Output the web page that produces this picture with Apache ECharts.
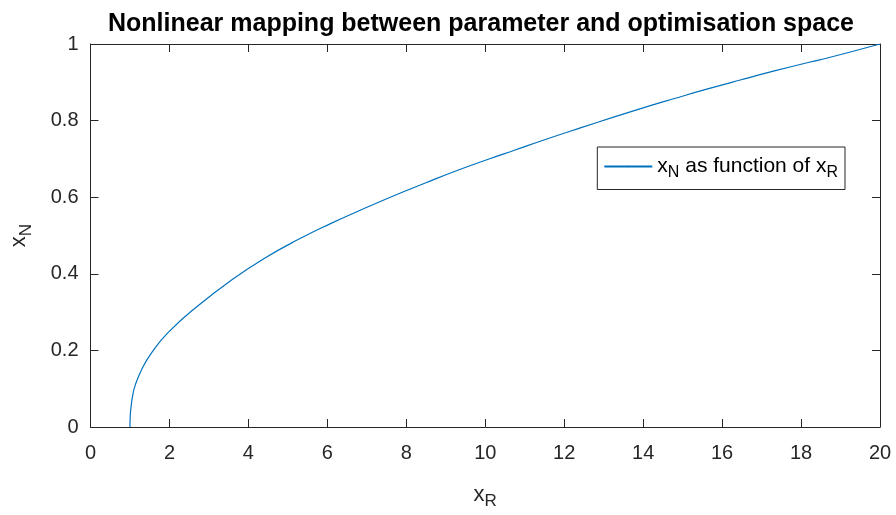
<!DOCTYPE html>
<html>
<head>
<meta charset="utf-8">
<script src="https://cdn.jsdelivr.net/npm/echarts@6/dist/echarts.min.js"></script>
<style>
  html, body { margin: 0; padding: 0; background: #fff; }
  #chart { width: 896px; height: 515px; }
</style>
</head>
<body>
<div id="chart"></div>
<script>
// Parameter-space values (x_R) and the matching optimisation-space values (x_N)
const xR = [1, 1.005, 1.03, 1.065, 1.13, 1.30, 1.55, 1.97, 2.74, 3.59, 4.43, 5.27, 6.08, 6.79, 7.64, 8.48,
            9.32, 10.13, 10.72, 11.56, 12.41, 13.25, 14.18, 14.77, 15.61, 16.46, 17.30, 18.23, 18.69, 20];
const xN = [0, 0.025, 0.055, 0.080, 0.108, 0.151, 0.194, 0.247, 0.318, 0.385, 0.442, 0.490, 0.531, 0.564, 0.602, 0.637,
            0.671, 0.701, 0.722, 0.752, 0.781, 0.809, 0.839, 0.857, 0.882, 0.906, 0.929, 0.953, 0.964, 1.0];

const xTicks = [0, 2, 4, 6, 8, 10, 12, 14, 16, 18, 20];
const yTicks = [0, 0.2, 0.4, 0.6, 0.8, 1];

const axisColor = '#262626';
const lineColor = '#0072BD';
const font = 'Liberation Sans, Arial, Helvetica, sans-serif';

const points = xR.map((x, i) => [x, xN[i]]);

const subRich = {
  v: { fontSize: 22, fontFamily: font, color: axisColor },
  s: { fontSize: 17, fontFamily: font, color: axisColor, padding: [14, 0, 0, 0] },
  t: { fontSize: 21, fontFamily: font, color: '#000' },
  ts: { fontSize: 16, fontFamily: font, color: '#000', padding: [12, 0, 0, 0] }
};

const chart = echarts.init(document.getElementById('chart'), null, { renderer: 'canvas' });

chart.setOption({
  animation: false,
  backgroundColor: '#fff',
  title: {
    text: 'Nonlinear mapping between parameter and optimisation space',
    left: 476,
    textAlign: 'center',
    top: 7,
    textStyle: { fontFamily: font, fontWeight: 'bold', fontSize: 25, color: '#000' }
  },
  grid: { left: 90, right: 16, top: 44, bottom: 87, containLabel: false },
  legend: {
    right: 51,
    top: 147,
    orient: 'vertical',
    backgroundColor: '#fff',
    borderColor: axisColor,
    borderWidth: 1,
    borderRadius: 0,
    padding: [9, 7, 9, 6],
    itemWidth: 48,
    itemHeight: 2,
    itemGap: 0,
    formatter: () => '{t|x}{ts|N}{t| as function of x}{ts|R}',
    textStyle: { rich: subRich, fontFamily: font, fontSize: 21 }
  },
  xAxis: [
    {
      type: 'value', min: 0, max: 20, interval: 2, position: 'bottom',
      name: '{v|x}{s|R}', nameLocation: 'middle', nameGap: 52,
      nameTextStyle: { rich: subRich },
      axisLine: { show: true, lineStyle: { color: axisColor, width: 1 } },
      axisTick: { show: true, inside: true, length: 8, lineStyle: { color: axisColor } },
      axisLabel: {
        margin: 16, fontSize: 20, fontFamily: font, color: axisColor,
        formatter: v => xTicks.includes(v) ? String(v) : ''
      },
      splitLine: { show: false }
    },
    {
      type: 'value', min: 0, max: 20, interval: 2, position: 'top',
      axisLine: { show: true, onZero: false, lineStyle: { color: axisColor, width: 1 } },
      axisTick: { show: true, inside: true, length: 8, lineStyle: { color: axisColor } },
      axisLabel: { show: false },
      splitLine: { show: false }
    }
  ],
  yAxis: [
    {
      type: 'value', min: 0, max: 1, interval: 0.2, position: 'left',
      name: '{v|x}{s|N}', nameLocation: 'middle', nameGap: 56, nameRotate: 90,
      nameTextStyle: { rich: subRich },
      axisLine: { show: true, onZero: false, lineStyle: { color: axisColor, width: 1 } },
      axisTick: { show: true, inside: true, length: 8, lineStyle: { color: axisColor } },
      axisLabel: {
        margin: 12, fontSize: 20, fontFamily: font, color: axisColor,
        formatter: v => {
          const t = yTicks.find(k => Math.abs(k - v) < 1e-9);
          return t === undefined ? '' : String(t);
        }
      },
      splitLine: { show: false }
    },
    {
      type: 'value', min: 0, max: 1, interval: 0.2, position: 'right',
      axisLine: { show: true, onZero: false, lineStyle: { color: axisColor, width: 1 } },
      axisTick: { show: true, inside: true, length: 8, lineStyle: { color: axisColor } },
      axisLabel: { show: false },
      splitLine: { show: false }
    }
  ],
  series: [
    {
      name: 'xN',
      type: 'line',
      xAxisIndex: 0,
      yAxisIndex: 0,
      data: points,
      showSymbol: false,
      symbol: 'none',
      smooth: 0.5,
      lineStyle: { color: lineColor, width: 1.2 },
      itemStyle: { color: lineColor }
    }
  ]
});
</script>
</body>
</html>
